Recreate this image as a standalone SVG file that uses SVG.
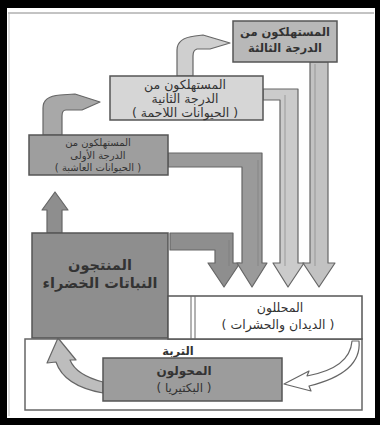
<svg xmlns="http://www.w3.org/2000/svg" width="380" height="425" viewBox="0 0 380 425">
<style>
.ar{font-family:"DejaVu Sans",sans-serif;direction:rtl;text-anchor:middle;fill:#333}
.box{stroke:#555;stroke-width:1.5}
.arr{stroke:#666;stroke-width:1.2;stroke-linejoin:round}
.inner{stroke:#777;stroke-width:0.8;fill:none;opacity:0.7}
</style>
<rect x="0" y="0" width="380" height="425" fill="#000"/>
<rect x="7" y="8" width="368" height="410" fill="#fff"/>
<line x1="8" y1="13" x2="374" y2="13" stroke="#888" stroke-width="1"/>
<line x1="9" y1="13" x2="9" y2="416" stroke="#bbb" stroke-width="1"/>

<g id="connectors">
  <path class="arr" fill="#8e8e8e" d="M170 233 L233 233 L233 263 L240 263 L224 287 L208 263 L215 263 L215 250 L170 250 Z"/>
  <path class="arr" fill="#9a9a9a" d="M168 153 L262 153 L262 263 L267 263 L252 287 L237 263 L242 263 L242 167 L168 167 Z"/>
  <path class="arr" fill="#cbcbcb" d="M263 89 L298 89 L298 263 L304 263 L288 287 L273 263 L280 263 L280 100 L263 100 Z"/>
  <path class="arr" fill="#c2c2c2" d="M310 62 L328 62 L328 263 L335 263 L319 287 L303 263 L310 263 Z"/>
  <line class="inner" x1="229" y1="240" x2="229" y2="266"/>
  <line class="inner" x1="258" y1="160" x2="258" y2="266"/>
  <line class="inner" x1="285" y1="95" x2="285" y2="266"/>
  <line class="inner" x1="315" y1="64" x2="315" y2="266"/>
  <path class="arr" fill="#8e8e8e" d="M47 233 L47 210 L42 210 L55 192 L68 210 L62 210 L62 233 Z"/>
  <path class="arr" fill="#a8a8a8" d="M43 135 L43 108 Q43 96 60 95 L75 94 L100 102 L82 110 L66 110 Q62 110 62 116 L62 135 Z"/>
  <path class="arr" fill="#cfcfcf" d="M177 76 L177 50 Q177 38 195 36 L203 35 L230 43 L210 49 L197 49 Q193 50 193 56 L193 76 Z"/>
  <path class="arr" fill="#bdbdbd" d="M56 362 Q64 386 103 393 L103 382 Q76 375 70 360 L76 360 L58 338 L47 363 Z"/>
  <path class="arr" fill="#fff" d="M352 341 Q350 368 307 376 L309 371 L284 384 L311 391 L309 386 Q362 373 359 341 Z"/>
</g>

<g id="tertiary">
  <rect class="box" x="233" y="21" width="104" height="41" fill="#b8b8b8"/>
  <text class="ar" x="285" y="36" font-size="11.5" font-weight="bold">المستهلكون من</text>
  <text class="ar" x="285" y="52" font-size="11.5" font-weight="bold">الدرجة الثالثة</text>
</g>
<g id="secondary">
  <rect class="box" x="110" y="76" width="153" height="44" fill="#d6d6d6"/>
  <text class="ar" x="185" y="89" font-size="12.5">المستهلكون من</text>
  <text class="ar" x="185" y="103" font-size="12.5">الدرجة الثانية</text>
  <text class="ar" x="185" y="117" font-size="12.5">( الحيوانات اللاحمة )</text>
</g>
<g id="primary">
  <rect class="box" x="29" y="135" width="139" height="40" fill="#9e9e9e"/>
  <text class="ar" x="98" y="146" font-size="10" fill="#444">المستهلكون من</text>
  <text class="ar" x="98" y="158.5" font-size="10" fill="#444">الدرجة الأولى</text>
  <text class="ar" x="98" y="171" font-size="10" fill="#444">( الحيوانات العاشبة )</text>
</g>
<g id="producers">
  <rect class="box" x="32" y="233" width="136" height="105" fill="#8e8e8e"/>
  <text class="ar" x="100" y="270" font-size="14.5" font-weight="bold" fill="#2a2a2a">المنتجون</text>
  <text class="ar" x="100" y="288" font-size="14.5" font-weight="bold" fill="#2a2a2a">النباتات الخضراء</text>
</g>
<g id="soil">
  <rect x="25" y="339" width="337" height="71" fill="none" stroke="#666" stroke-width="1.5"/>
  <text class="ar" x="178" y="355" font-size="11.5" font-weight="bold">التربة</text>
</g>
<g id="decomposers">
  <rect class="box" x="168" y="296" width="194" height="43" fill="#fff"/>
  <line x1="191" y1="296" x2="191" y2="339" stroke="#666" stroke-width="1"/>
  <line x1="195" y1="296" x2="195" y2="339" stroke="#666" stroke-width="1"/>
  <text class="ar" x="280" y="312" font-size="12.5">المحللون</text>
  <text class="ar" x="278" y="329" font-size="12.5">( الديدان والحشرات )</text>
</g>
<g id="bacteria">
  <rect class="box" x="103" y="358" width="179" height="43" fill="#9c9c9c"/>
  <text class="ar" x="184" y="375" font-size="12" font-weight="bold" fill="#2a2a2a">المحولون</text>
  <text class="ar" x="184" y="392" font-size="12" fill="#2a2a2a">( البكتيريا )</text>
</g>
</svg>
